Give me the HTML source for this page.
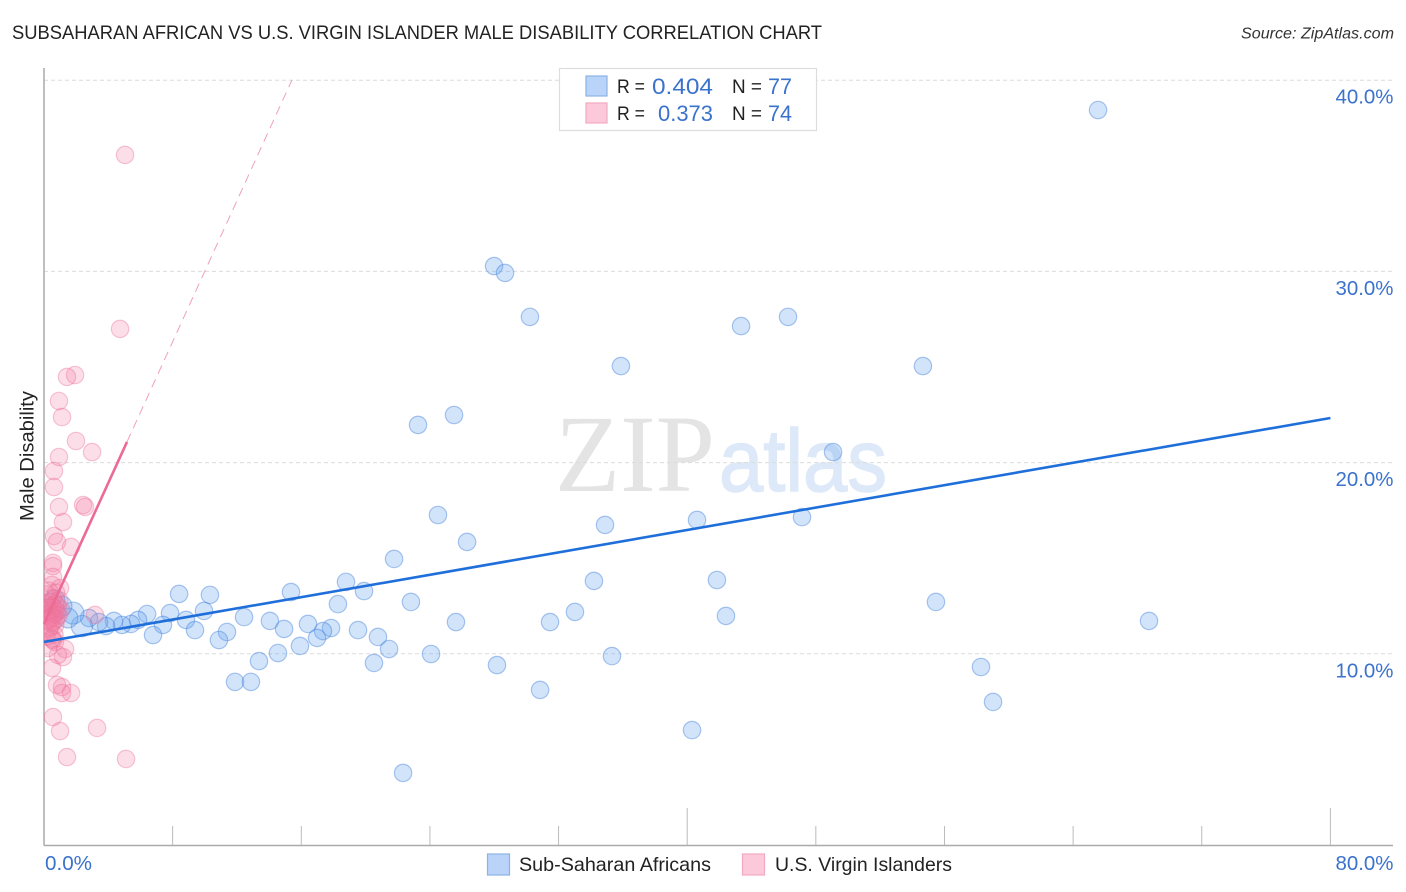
<!DOCTYPE html>
<html lang="en">
<head>
<meta charset="utf-8">
<title>Subsaharan African vs U.S. Virgin Islander Male Disability Correlation Chart</title>
<style>
html,body{margin:0;padding:0;background:#fff;width:1406px;height:892px;overflow:hidden}
svg{display:block;font-family:"Liberation Sans",sans-serif}
</style>
</head>
<body>
<svg id="chart" width="1406" height="892" viewBox="0 0 1406 892">
  <defs>
    <clipPath id="plot-clip"><rect x="44" y="60" width="1350" height="786"/></clipPath>
  </defs>
  <text x="12" y="39" font-size="19" fill="#222" textLength="810" lengthAdjust="spacingAndGlyphs">SUBSAHARAN AFRICAN VS U.S. VIRGIN ISLANDER MALE DISABILITY CORRELATION CHART</text>
  <text x="1394" y="38.5" font-size="15.5" font-style="italic" fill="#333" text-anchor="end" textLength="153" lengthAdjust="spacingAndGlyphs">Source: ZipAtlas.com</text>
  <g>
    <text x="555" y="491" font-family="'Liberation Serif',serif" font-size="110" fill="#e4e4e4" textLength="160" lengthAdjust="spacingAndGlyphs">ZIP</text>
    <text x="719" y="491" font-size="88" fill="#dde9f8" stroke="#dde9f8" stroke-width="1.5" textLength="168" lengthAdjust="spacingAndGlyphs">atlas</text>
  </g>
  <g id="grid"></g>
  <g id="axes"></g>
  <g id="blue-points" clip-path="url(#plot-clip)"></g>
  <g id="pink-points" clip-path="url(#plot-clip)"></g>
  <g id="trends"></g>
  <text transform="translate(33.5,456) rotate(-90)" font-size="19" fill="#222" text-anchor="middle" textLength="130" lengthAdjust="spacingAndGlyphs">Male Disability</text>
  <g>
    <rect x="559.5" y="68.5" width="257" height="62" fill="#fff" stroke="#ddd" stroke-width="1.2"/>
    <rect x="586" y="76" width="21" height="20" fill="#b9d4f8" stroke="#8db2e4" stroke-width="1.2"/>
    <rect x="586" y="103" width="21" height="20" fill="#fbc9da" stroke="#f3a9c1" stroke-width="1.2"/>
    <text x="617" y="93" font-size="19" fill="#222" textLength="28" lengthAdjust="spacingAndGlyphs">R =</text>
    <text x="652" y="94" font-size="22" fill="#3a72cc" textLength="61" lengthAdjust="spacingAndGlyphs">0.404</text>
    <text x="732" y="93" font-size="19" fill="#222" textLength="30" lengthAdjust="spacingAndGlyphs">N =</text>
    <text x="768" y="94" font-size="22" fill="#3a72cc" textLength="24" lengthAdjust="spacingAndGlyphs">77</text>
    <text x="617" y="120" font-size="19" fill="#222" textLength="28" lengthAdjust="spacingAndGlyphs">R =</text>
    <text x="658" y="121" font-size="22" fill="#3a72cc" textLength="55" lengthAdjust="spacingAndGlyphs">0.373</text>
    <text x="732" y="120" font-size="19" fill="#222" textLength="30" lengthAdjust="spacingAndGlyphs">N =</text>
    <text x="768" y="121" font-size="22" fill="#3a72cc" textLength="24" lengthAdjust="spacingAndGlyphs">74</text>
  </g>
  <g>
    <rect x="487.5" y="854" width="22" height="21" fill="#b9d4f8" stroke="#8db2e4" stroke-width="1.2"/>
    <text x="519" y="871" font-size="19.5" fill="#222" textLength="192" lengthAdjust="spacingAndGlyphs">Sub-Saharan Africans</text>
    <rect x="742.5" y="854" width="22" height="21" fill="#fbc9da" stroke="#f3a9c1" stroke-width="1.2"/>
    <text x="775" y="871" font-size="19.5" fill="#222" textLength="177" lengthAdjust="spacingAndGlyphs">U.S. Virgin Islanders</text>
  </g>
</svg>
<script>
const yTickValues = [10, 20, 30, 40];
const yTickLabels = ["10.0%", "20.0%", "30.0%", "40.0%"];
const xTickValues = [8, 16, 24, 32, 40, 48, 56, 64, 72, 80];
const xMajorTicks = [40, 80];
const xEndLabels = ["0.0%", "80.0%"];

const blueX = [65.55,27.99,28.67,30.22,43.35,46.27,35.88,54.66,23.26,25.50,49.07,24.50,34.89,40.61,47.14,26.31,21.77,34.20,41.85,18.78,19.90,15.36,8.40,10.32,18.28,22.82,55.47,9.95,7.84,6.41,12.44,33.02,42.41,68.72,25.62,31.47,8.83,14.05,16.42,14.93,17.85,17.35,19.53,7.40,5.85,9.39,11.38,10.88,6.78,20.77,16.98,15.92,21.46,14.55,24.07,35.32,13.37,20.52,28.17,58.27,11.88,12.87,30.85,59.02,40.30,22.33,5.41,4.85,4.35,3.86,3.42,2.80,2.36,1.80,1.49,1.12,0.68];
const blueY = [38.44,30.28,29.92,27.62,27.14,27.62,25.05,25.05,21.97,22.49,20.55,17.26,16.74,17.00,17.15,15.85,14.96,13.81,13.86,13.76,13.28,13.23,13.13,13.08,12.60,12.71,12.71,12.24,12.13,12.08,11.92,12.19,11.98,11.72,11.66,11.66,11.77,11.72,11.56,11.30,11.35,11.19,11.24,11.51,11.77,11.24,11.14,10.72,10.98,10.88,10.83,10.41,10.25,10.04,9.99,9.88,9.62,9.52,9.41,9.31,8.53,8.53,8.11,7.48,6.01,3.77,11.56,11.51,11.72,11.45,11.66,11.87,11.45,12.13,11.87,12.50,12.81];
const bluePopulation = [1,1,1,1,1,1,1,1,1,1,1,1,1,1,1,1,1,1,1,1,1,1,1,1,1,1,1,1,1,1,1,1,1,1,1,1,1,1,1,1,1,1,1,1,1,1,1,1,1,1,1,1,1,1,1,1,1,1,1,1,1,1,1,1,1,1,1,1,1,1,1,1,1.5,1.6,1.3,1.3,1.3];

const pinkX = [5.04,4.73,1.93,1.43,0.93,1.12,1.99,2.99,0.93,0.62,0.62,2.43,2.55,0.93,1.18,0.62,0.81,1.68,0.56,0.56,0.56,0.50,1.00,0.68,1.31,1.18,0.50,0.81,1.12,1.12,1.68,0.56,1.00,3.30,1.43,5.10,3.17,0.56,0.25,0.87,0.30,0.75,0.20,0.55,0.95,0.35,0.70,0.15,0.50,0.85,0.30,0.60,1.05,0.20,0.45,0.80,0.35,0.65,0.15,0.55,0.90,0.25,0.50,0.75,0.30,0.60,0.20,0.45,0.70,0.40,0.30,0.65,0.15,0.50];
const pinkY = [36.09,26.99,24.58,24.48,23.22,22.38,21.13,20.55,20.29,19.56,18.72,17.78,17.68,17.68,16.89,16.16,15.85,15.59,14.75,14.59,14.02,13.60,13.44,10.62,10.25,9.83,9.26,8.37,8.26,7.95,7.95,6.69,5.96,6.12,4.60,4.50,12.03,10.72,10.30,9.94,13.30,13.20,13.10,12.90,12.80,12.70,12.60,12.60,12.50,12.50,12.40,12.40,12.30,12.30,12.20,12.20,12.10,12.10,12.00,12.00,12.00,11.90,11.90,11.80,11.80,11.70,11.70,11.60,11.50,11.40,11.30,11.00,10.90,10.80];

const blueTrend = { intercept: 10.62, slope: 0.1464, xEnd: 80 };
const pinkTrend = { intercept: 11.56, slope: 1.845, xSolidEnd: 5.16, xDashEnd: 15.42 };

const svgNS = "http://www.w3.org/2000/svg";
const xScale = v => 44 + v * 16.08;
const yScale = v => 845 - v * 19.12;

function make(parent, tag, attrs, text) {
  const el = document.createElementNS(svgNS, tag);
  for (const k in attrs) el.setAttribute(k, attrs[k]);
  if (text !== undefined) el.textContent = text;
  document.getElementById(parent).appendChild(el);
  return el;
}

yTickValues.forEach((v, i) => {
  const line = make("grid", "line", { x1: 44, x2: 1393, y1: yScale(v), y2: yScale(v), stroke: "#dcdcdc", "stroke-width": 1, "stroke-dasharray": "4 3" });
  
  
  const label = make("axes", "text", { x: 1393.5, y: yScale(v) + 23.5, "font-size": 20, fill: "#3a72cc", "text-anchor": "end", textLength: 58, lengthAdjust: "spacingAndGlyphs" }, yTickLabels[i]);
  
  
});

const yAxisLine = make("axes", "line", { x1: 44, x2: 44, y1: 68, y2: 845.5, stroke: "#aaa", "stroke-width": 1.5 });


const xAxisLine = make("axes", "line", { x1: 44, x2: 1393, y1: 845.5, y2: 845.5, stroke: "#aaa", "stroke-width": 1.5 });



xTickValues.forEach(v => {
  const top = xMajorTicks.includes(v) ? 808 : 826;
  const tick = make("axes", "line", { x1: xScale(v), x2: xScale(v), y1: top, y2: 845, stroke: "#bbb", "stroke-width": 1 });
  
  
});

const xLabelLeft = make("axes", "text", { x: 45, y: 870, "font-size": 20, fill: "#3a72cc", textLength: 47, lengthAdjust: "spacingAndGlyphs" }, xEndLabels[0]);


const xLabelRight = make("axes", "text", { x: 1393.5, y: 870, "font-size": 20, fill: "#3a72cc", "text-anchor": "end", textLength: 58, lengthAdjust: "spacingAndGlyphs" }, xEndLabels[1]);



blueX.forEach((v, i) => {
  const dot = make("blue-points", "circle", { cx: xScale(v), cy: yScale(blueY[i]), r: 8.7 * Math.sqrt(bluePopulation[i]), fill: "rgba(105,165,240,0.3)", stroke: "rgba(70,130,220,0.45)", "stroke-width": 1.2 });
  
  
});

pinkX.forEach((v, i) => {
  const dot = make("pink-points", "circle", { cx: xScale(v), cy: yScale(pinkY[i]), r: 8.7, fill: "rgba(245,125,165,0.25)", stroke: "rgba(235,110,150,0.38)", "stroke-width": 1.2 });
  
  
});

const blueLine = make("trends", "line", { x1: xScale(0), y1: yScale(blueTrend.intercept), x2: xScale(blueTrend.xEnd), y2: yScale(blueTrend.intercept + blueTrend.slope * blueTrend.xEnd), stroke: "#1f6fdb", "stroke-width": 2.6 });


const pinkSolid = make("trends", "line", { x1: xScale(0), y1: yScale(pinkTrend.intercept), x2: xScale(pinkTrend.xSolidEnd), y2: yScale(pinkTrend.intercept + pinkTrend.slope * pinkTrend.xSolidEnd), stroke: "#ec6b95", "stroke-width": 2.6 });


const pinkDash = make("trends", "line", { x1: xScale(pinkTrend.xSolidEnd), y1: yScale(pinkTrend.intercept + pinkTrend.slope * pinkTrend.xSolidEnd), x2: xScale(pinkTrend.xDashEnd), y2: yScale(pinkTrend.intercept + pinkTrend.slope * pinkTrend.xDashEnd), stroke: "#f0a0ba", "stroke-width": 1, "stroke-dasharray": "9 6" });


</script>
</body>
</html>
